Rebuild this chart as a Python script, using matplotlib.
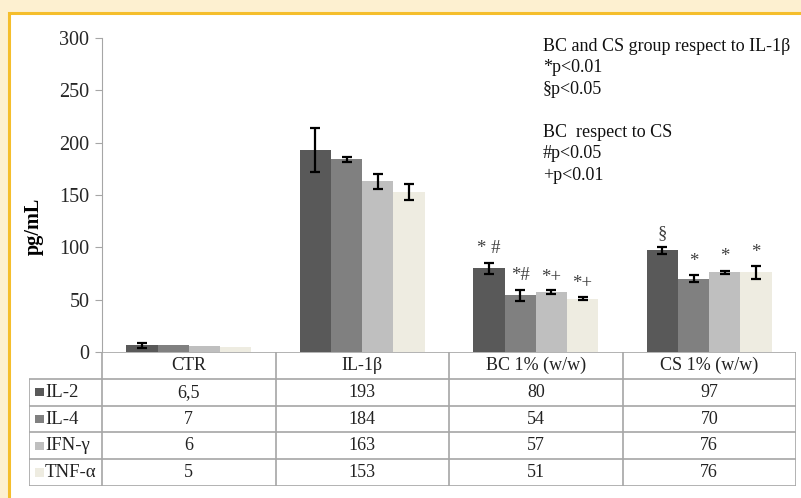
import numpy as np
import matplotlib
matplotlib.use("Agg")
import matplotlib.pyplot as plt
from matplotlib.patches import Rectangle

# --- datos ---
groups = ["CTR", "IL-1β", "BC 1% (w/w)", "CS 1% (w/w)"]
series = ["IL-2", "IL-4", "IFN-γ", "TNF-α"]
il2 = [6.5, 193, 80, 97]
il4 = [7, 184, 54, 70]
ifng = [6, 163, 57, 76]
tnfa = [5, 153, 51, 76]
il2_err = [2.5, 21, 5.5, 3]
il4_err = [0, 2.5, 5.5, 3.5]
ifng_err = [0, 7.5, 2, 1.5]
tnfa_err = [0, 7.5, 1.5, 6]
table_text = [
    ["6,5", "193", "80", "97"],
    ["7", "184", "54", "70"],
    ["6", "163", "57", "76"],
    ["5", "153", "51", "76"],
]
marks = [
    ["", "", "", ""],
    ["", "", "", ""],
    ["* #", "*#", "*+", "*+"],
    ["§", "*", "*", "*"],
]
legend_note = ("BC and CS group respect to IL-1β\n*p<0.01\n§p<0.05\n\n"
               "BC  respect to CS\n#p<0.05\n+p<0.01")

colors = ["#595959", "#808080", "#BFBFBF", "#EEECE1"]
values = [il2, il4, ifng, tnfa]
errors = [il2_err, il4_err, ifng_err, tnfa_err]

plt.rcParams["font.family"] = ["Liberation Serif", "DejaVu Serif"]
FS = 13
GRID = "#A6A6A6"

fig = plt.figure(figsize=(8.01, 4.98), dpi=100)
fig.patch.set_facecolor("#FDF0D0")
W, H = 801, 498
# panel blanco con borde amarillo
fig.add_artist(Rectangle((9 / W, -0.05), 1.0, 1 - 13 / H + 0.05,
                         transform=fig.transFigure, facecolor="white",
                         edgecolor="#F5BE2C", linewidth=2.2, zorder=0))

ax = fig.add_axes([102 / W, 1 - 352 / H, 694 / W, 314 / H])
ax.set_facecolor("none")
x = np.arange(len(groups))
bw = 0.18
for i, (vals, errs, c) in enumerate(zip(values, errors, colors)):
    pos = x + (i - 1.5) * bw
    ax.bar(pos, vals, width=bw, color=c, edgecolor="none", zorder=2)
    for p, v, e in zip(pos, vals, errs):
        if e > 0:
            ax.errorbar(p, v, yerr=e, fmt="none", ecolor="black",
                        elinewidth=1.6, capsize=3.3, capthick=1.6, zorder=3)

for g in range(len(groups)):
    for i in range(len(series)):
        m = marks[g][i]
        if m:
            top = values[i][g] + errors[i][g]
            ax.annotate(m, (x[g] + (i - 1.5) * bw, top), xytext=(0, 4),
                        textcoords="offset points", ha="center", va="bottom",
                        fontsize=FS + 0.5, color="#404040")

ax.set_xlim(-0.5, 3.5)
ax.set_ylim(0, 300)
ax.set_yticks(range(0, 301, 50))
ax.set_xticks([])
for s in ["top", "right", "bottom"]:
    ax.spines[s].set_visible(False)
ax.spines["left"].set_color(GRID)
ax.tick_params(axis="y", length=5, color=GRID, labelsize=14.5, labelcolor="#262626", pad=4)
ax.set_ylabel("pg/mL", fontsize=14.5, fontweight="bold")
ax.yaxis.set_label_coords(-0.084, 0.40)

ax.text(543 / W, 1 - 38 / H, legend_note, transform=fig.transFigure,
        ha="left", va="top", fontsize=FS, linespacing=1.34, color="#111111")

# --- tabla de datos debajo del eje ---
tx = fig.add_axes([29 / W, 1 - 486 / H, 767 / W, 134 / H])
lab_w = 73 / 173.5
tx.set_xlim(-0.5 - lab_w, 3.5)
tx.set_ylim(5, 0)
tx.axis("off")
rows = len(series) + 1
tx.hlines(0, -0.5, 3.5, color=GRID, lw=1.2)
tx.hlines(np.arange(1, rows + 1), -0.5 - lab_w, 3.5, color=GRID, lw=1.2)
tx.vlines(np.arange(len(groups) + 1) - 0.5, 0, rows, color=GRID, lw=1.2)
tx.vlines(-0.5 - lab_w, 1, rows, color=GRID, lw=1.2)
for g, name in enumerate(groups):
    tx.text(g, 0.5, name, ha="center", va="center", fontsize=FS, color="#222222")
for r, name in enumerate(series):
    yc = r + 1.5
    tx.add_patch(Rectangle((-0.5 - lab_w + 6 / 173.5, yc - 0.16), 9 / 173.5, 0.32,
                           facecolor=colors[r], edgecolor="none"))
    tx.text(-0.5 - lab_w + 16 / 173.5, yc, name, ha="left", va="center",
            fontsize=FS + 0.5, color="#222222")
    for g in range(len(groups)):
        tx.text(g, yc, table_text[r][g], ha="center", va="center",
                fontsize=FS, color="#222222")

fig.savefig("out.png", dpi=100, facecolor=fig.get_facecolor())
